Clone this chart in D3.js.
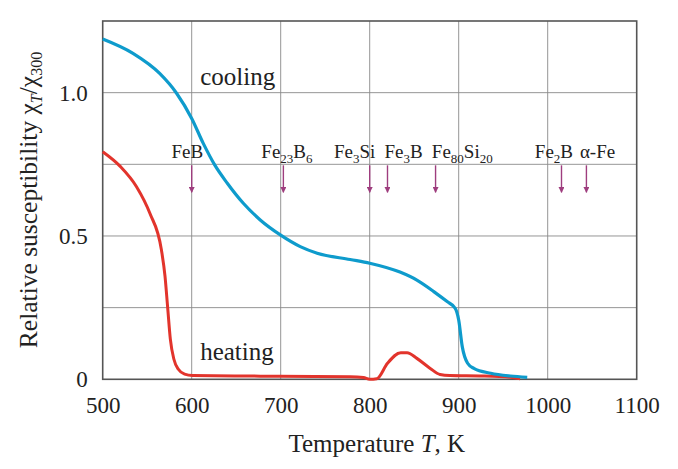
<!DOCTYPE html>
<html>
<head>
<meta charset="utf-8">
<script src="https://cdn.jsdelivr.net/npm/d3@7"></script>
<style>
  body { margin: 0; background: #fff; }
  text { font-family: "Liberation Serif", "DejaVu Serif", serif; fill: #222; }
</style>
</head>
<body>
<svg id="chart"></svg>
<script>
// cooling curve (T in K, chi_T/chi_300)
const coolingT = [500, 534, 564, 583, 600, 613, 626, 640, 658, 677, 700, 722, 741, 778, 800, 834, 853, 872, 887, 896, 900, 904, 910, 917, 936, 958, 977];
const coolingV = [1.187, 1.137, 1.067, 0.998, 0.91, 0.823, 0.747, 0.684, 0.614, 0.556, 0.503, 0.463, 0.44, 0.418, 0.405, 0.374, 0.346, 0.306, 0.271, 0.248, 0.207, 0.114, 0.056, 0.038, 0.021, 0.0115, 0.007];

// heating curve
const heatingT = [500, 520, 538, 553, 566, 570, 573, 576, 580, 585, 592, 601, 677, 778, 793, 800, 808, 820, 835, 842, 853, 868, 879, 890, 927, 958, 969];
const heatingV = [0.794, 0.742, 0.672, 0.579, 0.451, 0.36, 0.25, 0.14, 0.07, 0.035, 0.018, 0.013, 0.011, 0.009, 0.006, 0.0, 0.002, 0.056, 0.093, 0.093, 0.073, 0.038, 0.017, 0.013, 0.0115, 0.007, 0.002];

// phase markers: label parts, arrow temperature, label centre
const phaseNames = [["Fe", "B"], ["Fe", "23", "B", "6"], ["Fe", "3", "Si"], ["Fe", "3", "B"], ["Fe", "80", "Si", "20"], ["Fe", "2", "B"], ["\u03b1-Fe"]];
const phaseT = [600, 703, 800, 820, 874, 1015.5, 1043.5];
const phaseLabelT = [595, 707, 783, 838, 904, 1007, 1056];

const xTicks = [500, 600, 700, 800, 900, 1000, 1100];
const yTicks = [0, 0.5, 1.0];
const yGrid = [0.25, 0.5, 0.75, 1.0];

const svgWidth = 678;
const svgHeight = 469;
const margin = { top: 21, right: 41.3, bottom: 89.7, left: 102.7 };
const width = svgWidth - margin.left - margin.right;
const height = svgHeight - margin.top - margin.bottom;

const x = d3.scaleLinear().domain([500, 1100]).range([0, width]);
const y = d3.scaleLinear().domain([0, 1.25]).range([height, 0]);

const svg = d3.select('#chart')
  .attr('width', svgWidth)
  .attr('height', svgHeight);

svg.append('defs').append('marker')
  .attr('id', 'arrow')
  .attr('viewBox', '0 0 10 10')
  .attr('refX', 9).attr('refY', 5)
  .attr('markerWidth', 8).attr('markerHeight', 6)
  .attr('markerUnits', 'userSpaceOnUse')
  .attr('orient', 'auto')
  .append('path')
    .attr('d', 'M0,0 L10,5 L0,10 Z')
    .attr('fill', '#9e3d7e');

const g = svg.append('g')
  .attr('transform', `translate(${margin.left}, ${margin.top})`);

// grid
g.selectAll('.vgrid')
  .data(xTicks.slice(1, -1))
  .enter()
  .append('line')
    .attr('x1', d => x(d)).attr('x2', d => x(d))
    .attr('y1', 0).attr('y2', height)
    .attr('stroke', '#8a8a8a')
    .attr('stroke-width', 0.9);

g.selectAll('.hgrid')
  .data(yGrid)
  .enter()
  .append('line')
    .attr('x1', 0).attr('x2', width)
    .attr('y1', d => y(d)).attr('y2', d => y(d))
    .attr('stroke', '#8a8a8a')
    .attr('stroke-width', 0.9);

// axes (labels only)
const xAxis = d3.axisBottom(x).tickValues(xTicks).tickSize(0).tickPadding(17.5).tickFormat(d3.format('d'));
const yAxis = d3.axisLeft(y).tickValues(yTicks).tickSize(0).tickPadding(15)
  .tickFormat(d => d === 0 ? '0' : d3.format('.1f')(d));

g.append('g')
  .attr('transform', `translate(0, ${height})`)
  .call(xAxis)
  .call(s => s.select('.domain').remove())
  .selectAll('text')
    .style('font-size', '23px')
    .style('font-family', '"Liberation Serif", serif')
    .attr('fill', '#222');

g.append('g')
  .call(yAxis)
  .call(s => s.select('.domain').remove())
  .selectAll('text')
    .style('font-size', '23px')
    .style('font-family', '"Liberation Serif", serif')
    .attr('fill', '#222');

// frame
g.append('rect')
  .attr('width', width).attr('height', height)
  .attr('fill', 'none')
  .attr('stroke', '#555')
  .attr('stroke-width', 1.6);

// curves
const line = d3.line()
  .x(d => x(d[0]))
  .y(d => y(d[1]))
  .curve(d3.curveMonotoneX);

g.append('path')
  .datum(heatingT.map((t, i) => [t, heatingV[i]]))
  .attr('d', line)
  .attr('fill', 'none')
  .attr('stroke', '#e2342c')
  .attr('stroke-width', 3);

g.append('path')
  .datum(coolingT.map((t, i) => [t, coolingV[i]]))
  .attr('d', line)
  .attr('fill', 'none')
  .attr('stroke', '#0e9bcc')
  .attr('stroke-width', 3.2);

// phase arrows
g.selectAll('.arrow')
  .data(phaseT)
  .enter()
  .append('line')
    .attr('x1', d => x(d)).attr('x2', d => x(d))
    .attr('y1', y(0.75) + 1).attr('y2', y(0.75) + 28)
    .attr('stroke', '#9e3d7e')
    .attr('stroke-width', 1.4)
    .attr('marker-end', 'url(#arrow)');

const labels = g.selectAll('.phase')
  .data(phaseNames)
  .enter()
  .append('text')
    .attr('x', (d, i) => x(phaseLabelT[i]))
    .attr('y', y(0.75) - 6)
    .attr('text-anchor', 'middle')
    .style('font-size', '19px');

labels.each(function (parts) {
  const t = d3.select(this);
  let prevSub = false;
  parts.forEach(p => {
    const sub = /^\d+$/.test(p);
    t.append('tspan')
      .attr('dy', sub === prevSub ? 0 : (sub ? 5 : -5))
      .style('font-size', sub ? '13px' : '19px')
      .text(p);
    prevSub = sub;
  });
});

// curve labels
g.append('text')
  .attr('x', x(609.5)).attr('y', y(1.0) - 8)
  .style('font-size', '25px')
  .text('cooling');

g.append('text')
  .attr('x', x(609.5)).attr('y', y(0) - 19)
  .style('font-size', '25px')
  .text('heating');

// axis titles
const xt = svg.append('text')
  .attr('x', margin.left + x(808))
  .attr('y', 452)
  .attr('text-anchor', 'middle')
  .style('font-size', '25px');
xt.append('tspan').text('Temperature ');
xt.append('tspan').style('font-style', 'italic').text('T');
xt.append('tspan').text(', K');

const yt = svg.append('text')
  .attr('transform', 'translate(37, 200) rotate(-90)')
  .attr('text-anchor', 'middle')
  .style('font-size', '25.5px');
yt.append('tspan').text('Relative susceptibility \u03c7');
yt.append('tspan').attr('dy', 5).style('font-size', '16px').style('font-style', 'italic').text('T');
yt.append('tspan').attr('dy', -5).text('/\u03c7');
yt.append('tspan').attr('dy', 5).style('font-size', '16px').text('300');
</script>
</body>
</html>
